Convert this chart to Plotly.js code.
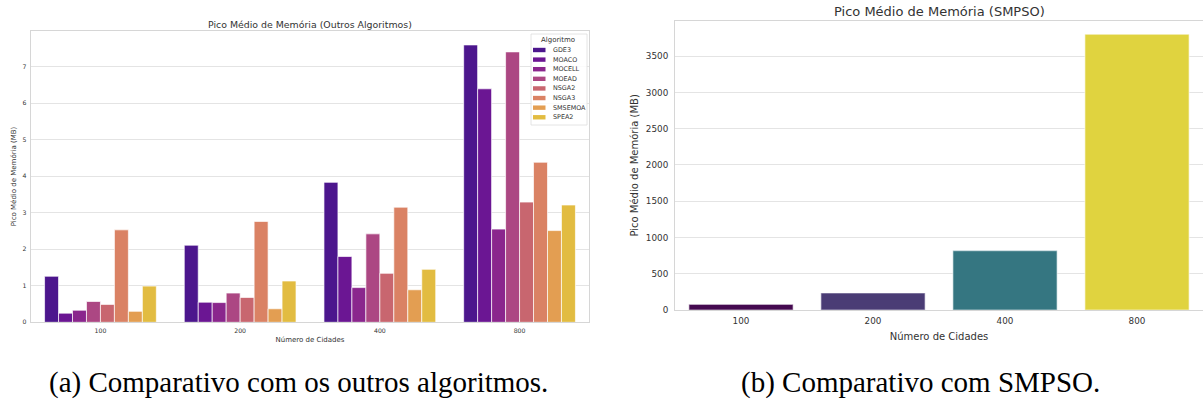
<!DOCTYPE html>
<html>
<head>
<meta charset="utf-8">
<script src="https://cdn.plot.ly/plotly-3.0.1.min.js"></script>
<style>html,body{margin:0;padding:0;background:#fff;}#chart{width:1203px;height:401px;}</style>
</head>
<body>
<div id="chart"></div>
<script>
// ---- data ----
const cities = ["100", "200", "400", "800"];
const algorithms = ["GDE3", "MOACO", "MOCELL", "MOEAD", "NSGA2", "NSGA3", "SMSEMOA", "SPEA2"];
const gde3    = [1.26, 2.11, 3.83, 7.59];
const moaco   = [0.25, 0.55, 1.80, 6.39];
const mocell  = [0.33, 0.54, 0.95, 2.55];
const moead   = [0.57, 0.80, 2.42, 7.40];
const nsga2   = [0.49, 0.68, 1.34, 3.29];
const nsga3   = [2.53, 2.76, 3.15, 4.38];
const smsemoa = [0.30, 0.37, 0.89, 2.51];
const spea2   = [0.99, 1.13, 1.45, 3.21];
const smpso   = [78, 235, 820, 3803];
const leftTitle = "Pico Médio de Memória (Outros Algoritmos)";
const rightTitle = "Pico Médio de Memória (SMPSO)";
const xLabel = "Número de Cidades";
const yLabel = "Pico Médio de Memória (MB)";
const legendTitle = "Algoritmo";
const captionA = "(a) Comparativo com os outros algoritmos.";
const captionB = "(b) Comparativo com SMPSO.";

// ---- styles ----
const seriesValues = [gde3, moaco, mocell, moead, nsga2, nsga3, smsemoa, spea2];
const plasmaColors = ["#4c168d", "#6b1693", "#8a268d", "#ac4783", "#c8666f", "#da8264", "#e39e52", "#e2bc41"];
const viridisColors = ["#450a50", "#4a3c75", "#357681", "#e0d33f"];
const W = 1203, H = 401;
const px = x => x / W;
const py = y => 1 - y / H;
const FONT = "DejaVu Sans, sans-serif";
const TXT = "#333333";
const GRID = "#e4e4e4";
const SPINE = "#d6d6d6";

const traces = algorithms.map((name, i) => ({
  type: "bar", name: name, x: cities, y: seriesValues[i],
  xaxis: "x", yaxis: "y",
  marker: {color: plasmaColors[i], line: {color: "rgba(255,255,255,0.85)", width: 0.8}},
  showlegend: false, hoverinfo: "x+y+name"
}));
traces.push({
  type: "bar", name: "SMPSO", x: cities, y: smpso, xaxis: "x2", yaxis: "y2",
  marker: {color: viridisColors, line: {color: "rgba(255,255,255,0.55)", width: 1.2}},
  width: 0.79, showlegend: false
});

const shapes = [];
const annotations = [];
// panel titles
annotations.push({text: leftTitle, xref: "paper", yref: "paper", x: px(310), y: py(24), xanchor: "center", yanchor: "middle", showarrow: false, font: {family: FONT, size: 9.4, color: TXT}});
annotations.push({text: rightTitle, xref: "paper", yref: "paper", x: px(939), y: py(11.7), xanchor: "center", yanchor: "middle", showarrow: false, font: {family: FONT, size: 13, color: TXT}});
// captions
annotations.push({text: captionA, xref: "paper", yref: "paper", x: px(298.5), y: py(382), xanchor: "center", yanchor: "middle", showarrow: false, font: {family: "Liberation Serif, Times New Roman, serif", size: 29, color: "#000"}});
annotations.push({text: captionB, xref: "paper", yref: "paper", x: px(920), y: py(382), xanchor: "center", yanchor: "middle", showarrow: false, font: {family: "Liberation Serif, Times New Roman, serif", size: 29, color: "#000"}});

// custom legend (left panel)
shapes.push({type: "rect", xref: "paper", yref: "paper", x0: px(531), x1: px(587), y0: py(125), y1: py(34), line: {color: "#dddddd", width: 0.8}, fillcolor: "rgba(255,255,255,0.85)", layer: "above"});
annotations.push({text: legendTitle, xref: "paper", yref: "paper", x: px(558), y: py(40.5), xanchor: "center", yanchor: "middle", showarrow: false, font: {family: FONT, size: 7, color: TXT}});
algorithms.forEach((name, i) => {
  const yc = 50 + i * 9.61;
  shapes.push({type: "rect", xref: "paper", yref: "paper", x0: px(533), x1: px(545.5), y0: py(yc + 2.2), y1: py(yc - 2.2), line: {width: 0}, fillcolor: plasmaColors[i], layer: "above"});
  annotations.push({text: name, xref: "paper", yref: "paper", x: px(550.5), y: py(yc), xanchor: "left", yanchor: "middle", showarrow: false, font: {family: FONT, size: 6.4, color: TXT}});
});

const axBase = {showline: true, mirror: true, linecolor: SPINE, linewidth: 1, ticks: "", zeroline: false, fixedrange: true};

const layout = {
  width: W, height: H,
  margin: {l: 0, r: 0, t: 0, b: 0},
  paper_bgcolor: "#fff", plot_bgcolor: "#fff",
  barmode: "group", bargap: 0.2, bargroupgap: 0,
  font: {family: FONT, color: TXT},
  xaxis: Object.assign({}, axBase, {
    domain: [px(30.6), px(589.4)], anchor: "y", type: "category", range: [-0.5, 3.5],
    showgrid: false, tickfont: {size: 6.2, color: TXT}, ticklabelstandoff: 2,
    title: {text: xLabel, font: {size: 7, color: TXT}, standoff: 4}
  }),
  yaxis: Object.assign({}, axBase, {
    domain: [py(322.3), py(30.7)], anchor: "x", range: [0, 7.98], dtick: 1, tick0: 0,
    showgrid: true, gridcolor: GRID, gridwidth: 1, tickfont: {size: 6.2, color: TXT}, ticklabelstandoff: 2,
    title: {text: yLabel, font: {size: 7, color: TXT}, standoff: 4}
  }),
  xaxis2: Object.assign({}, axBase, {
    domain: [px(675), 1], anchor: "y2", type: "category", range: [-0.5, 3.5],
    showgrid: false, tickfont: {size: 8.8, color: TXT}, ticklabelstandoff: 2,
    title: {text: xLabel, font: {size: 10, color: TXT}, standoff: 8}
  }),
  yaxis2: Object.assign({}, axBase, {
    domain: [py(310), py(20.7)], anchor: "x2", range: [0, 3990], dtick: 500, tick0: 0,
    showgrid: true, gridcolor: GRID, gridwidth: 1, tickfont: {size: 8.8, color: TXT}, ticklabelstandoff: 4,
    title: {text: yLabel, font: {size: 10, color: TXT}, standoff: 5}
  }),
  shapes: shapes,
  annotations: annotations
};

Plotly.newPlot("chart", traces, layout, {displayModeBar: false, staticPlot: true});
</script>
</body>
</html>
